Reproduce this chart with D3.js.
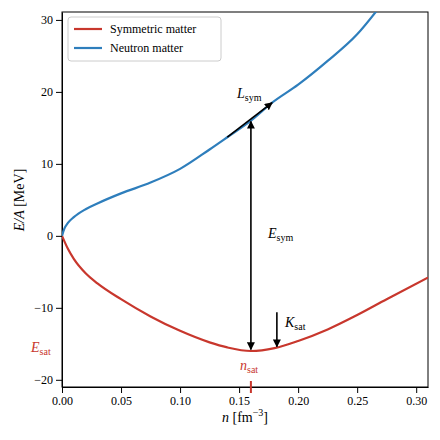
<!DOCTYPE html>
<html><head><meta charset="utf-8">
<script src="https://cdn.jsdelivr.net/npm/d3@7"></script>
<style>body{margin:0;background:#fff}text{font-family:"Liberation Serif","DejaVu Serif",serif}</style>
</head><body><div id="chart"></div>
<script>
var nSym = [0, 0.005, 0.01, 0.02, 0.03, 0.05, 0.075, 0.1, 0.125, 0.14, 0.16, 0.18, 0.2, 0.225, 0.25, 0.275, 0.31];
var eSym = [0, -1.8, -3.2, -5.2, -6.6, -8.8, -11.2, -13.2, -14.8, -15.5, -16, -15.6, -14.6, -13.0, -11.0, -8.8, -5.8];
var nNeu = [0, 0.002, 0.005, 0.01, 0.02, 0.03, 0.05, 0.075, 0.1, 0.125, 0.14, 0.16, 0.178, 0.2, 0.225, 0.25, 0.27];
var eNeu = [0, 1.0, 1.8, 2.6, 3.7, 4.5, 5.9, 7.4, 9.3, 12.0, 13.7, 16.0, 18.5, 21.0, 24.3, 28.0, 32.0];
var xTicks = [0, 0.05, 0.1, 0.15, 0.2, 0.25, 0.3];
var yTicks = [-20, -10, 0, 10, 20, 30];

var red = "#c8372d", blue = "#2e7ebc";
var svg = d3.select("#chart").append("svg").attr("width", 440).attr("height", 440);
var x = d3.scaleLinear().domain([0, 0.31]).range([62, 428]);
var y = d3.scaleLinear().domain([-21, 31.1]).range([387, 12]);

svg.append("defs").append("clipPath").attr("id", "clip")
  .append("rect").attr("x", 62).attr("y", 12).attr("width", 366).attr("height", 375);
var mk = svg.select("defs").append("marker").attr("id", "ah").attr("viewBox", "0 0 10 10")
  .attr("refX", 9).attr("refY", 5).attr("markerWidth", 5).attr("markerHeight", 5).attr("orient", "auto-start-reverse");
mk.append("path").attr("d", "M0,0L10,5L0,10z").attr("fill", "#000");

svg.append("g").attr("transform", "translate(0,387)")
  .call(d3.axisBottom(x).tickValues(xTicks).tickFormat(d3.format(".2f")).tickSizeOuter(0))
  .attr("font-family", null)
  .call(g => g.selectAll("text").attr("font-size", 12));
svg.append("g").attr("transform", "translate(62,0)")
  .call(d3.axisLeft(y).tickValues(yTicks).tickFormat(d => d < 0 ? "\u2212" + (-d) : d).tickSizeOuter(0))
  .attr("font-family", null)
  .call(g => g.selectAll("text").attr("font-size", 12));
svg.append("rect").attr("x", 62).attr("y", 12).attr("width", 366).attr("height", 375)
  .attr("fill", "none").attr("stroke", "#000");

var line = d3.line().x(d => x(d[0])).y(d => y(d[1])).curve(d3.curveMonotoneX);
var g = svg.append("g").attr("clip-path", "url(#clip)");
g.append("path").datum(d3.zip(nSym, eSym)).attr("d", line).attr("fill", "none").attr("stroke", red).attr("stroke-width", 2.2);
g.append("path").datum(d3.zip(nNeu, eNeu)).attr("d", line).attr("fill", "none").attr("stroke", blue).attr("stroke-width", 2.2);

function arrow(x1, y1, x2, y2, both) {
  var l = svg.append("line").attr("x1", x(x1)).attr("y1", y(y1)).attr("x2", x(x2)).attr("y2", y(y2))
    .attr("stroke", "#000").attr("stroke-width", 1.6).attr("marker-end", "url(#ah)");
  if (both) l.attr("marker-start", "url(#ah)");
}
arrow(0.16, -15.8, 0.16, 15.9, true);
arrow(0.14, 13.7, 0.178, 18.5, false);
arrow(0.182, -10.6, 0.182, -15.4, false);

function label(px, py, main, sub, color, anchor) {
  var t = svg.append("text").attr("x", px).attr("y", py).attr("font-size", 14).attr("fill", color || "#000")
    .attr("text-anchor", anchor || "start").attr("font-style", "italic");
  t.append("tspan").text(main);
  t.append("tspan").attr("font-size", 10).attr("dy", 3).attr("font-style", "normal").text(sub);
}
label(237, 98, "L", "sym");
label(268, 238, "E", "sym");
label(285, 327, "K", "sat");
label(31, 352, "E", "sat", red);
label(240, 370, "n", "sat", red);
svg.append("line").attr("x1", x(0.16)).attr("x2", x(0.16)).attr("y1", 381).attr("y2", 393).attr("stroke", red).attr("stroke-width", 2);

var t = svg.append("text").attr("x", 245).attr("y", 422).attr("text-anchor", "middle").attr("font-size", 14);
t.append("tspan").attr("font-style", "italic").text("n");
t.append("tspan").text(" [fm");
t.append("tspan").attr("font-size", 10).attr("dy", -6).text("\u22123");
t.append("tspan").attr("dy", 6).text("]");
var yl = svg.append("text").attr("transform", "translate(24,200) rotate(-90)").attr("text-anchor", "middle").attr("font-size", 14);
yl.append("tspan").attr("font-style", "italic").text("E/A");
yl.append("tspan").text(" [MeV]");

var lg = svg.append("g").attr("transform", "translate(68,17)");
lg.append("rect").attr("width", 153).attr("height", 44).attr("rx", 3).attr("fill", "#fff").attr("stroke", "#ccc");
[["Symmetric matter", red], ["Neutron matter", blue]].forEach(function (d, i) {
  lg.append("line").attr("x1", 6).attr("x2", 34).attr("y1", 12 + i * 19).attr("y2", 12 + i * 19).attr("stroke", d[1]).attr("stroke-width", 2.2);
  lg.append("text").attr("x", 42).attr("y", 16 + i * 19).attr("font-size", 12).text(d[0]);
});
</script></body></html>
